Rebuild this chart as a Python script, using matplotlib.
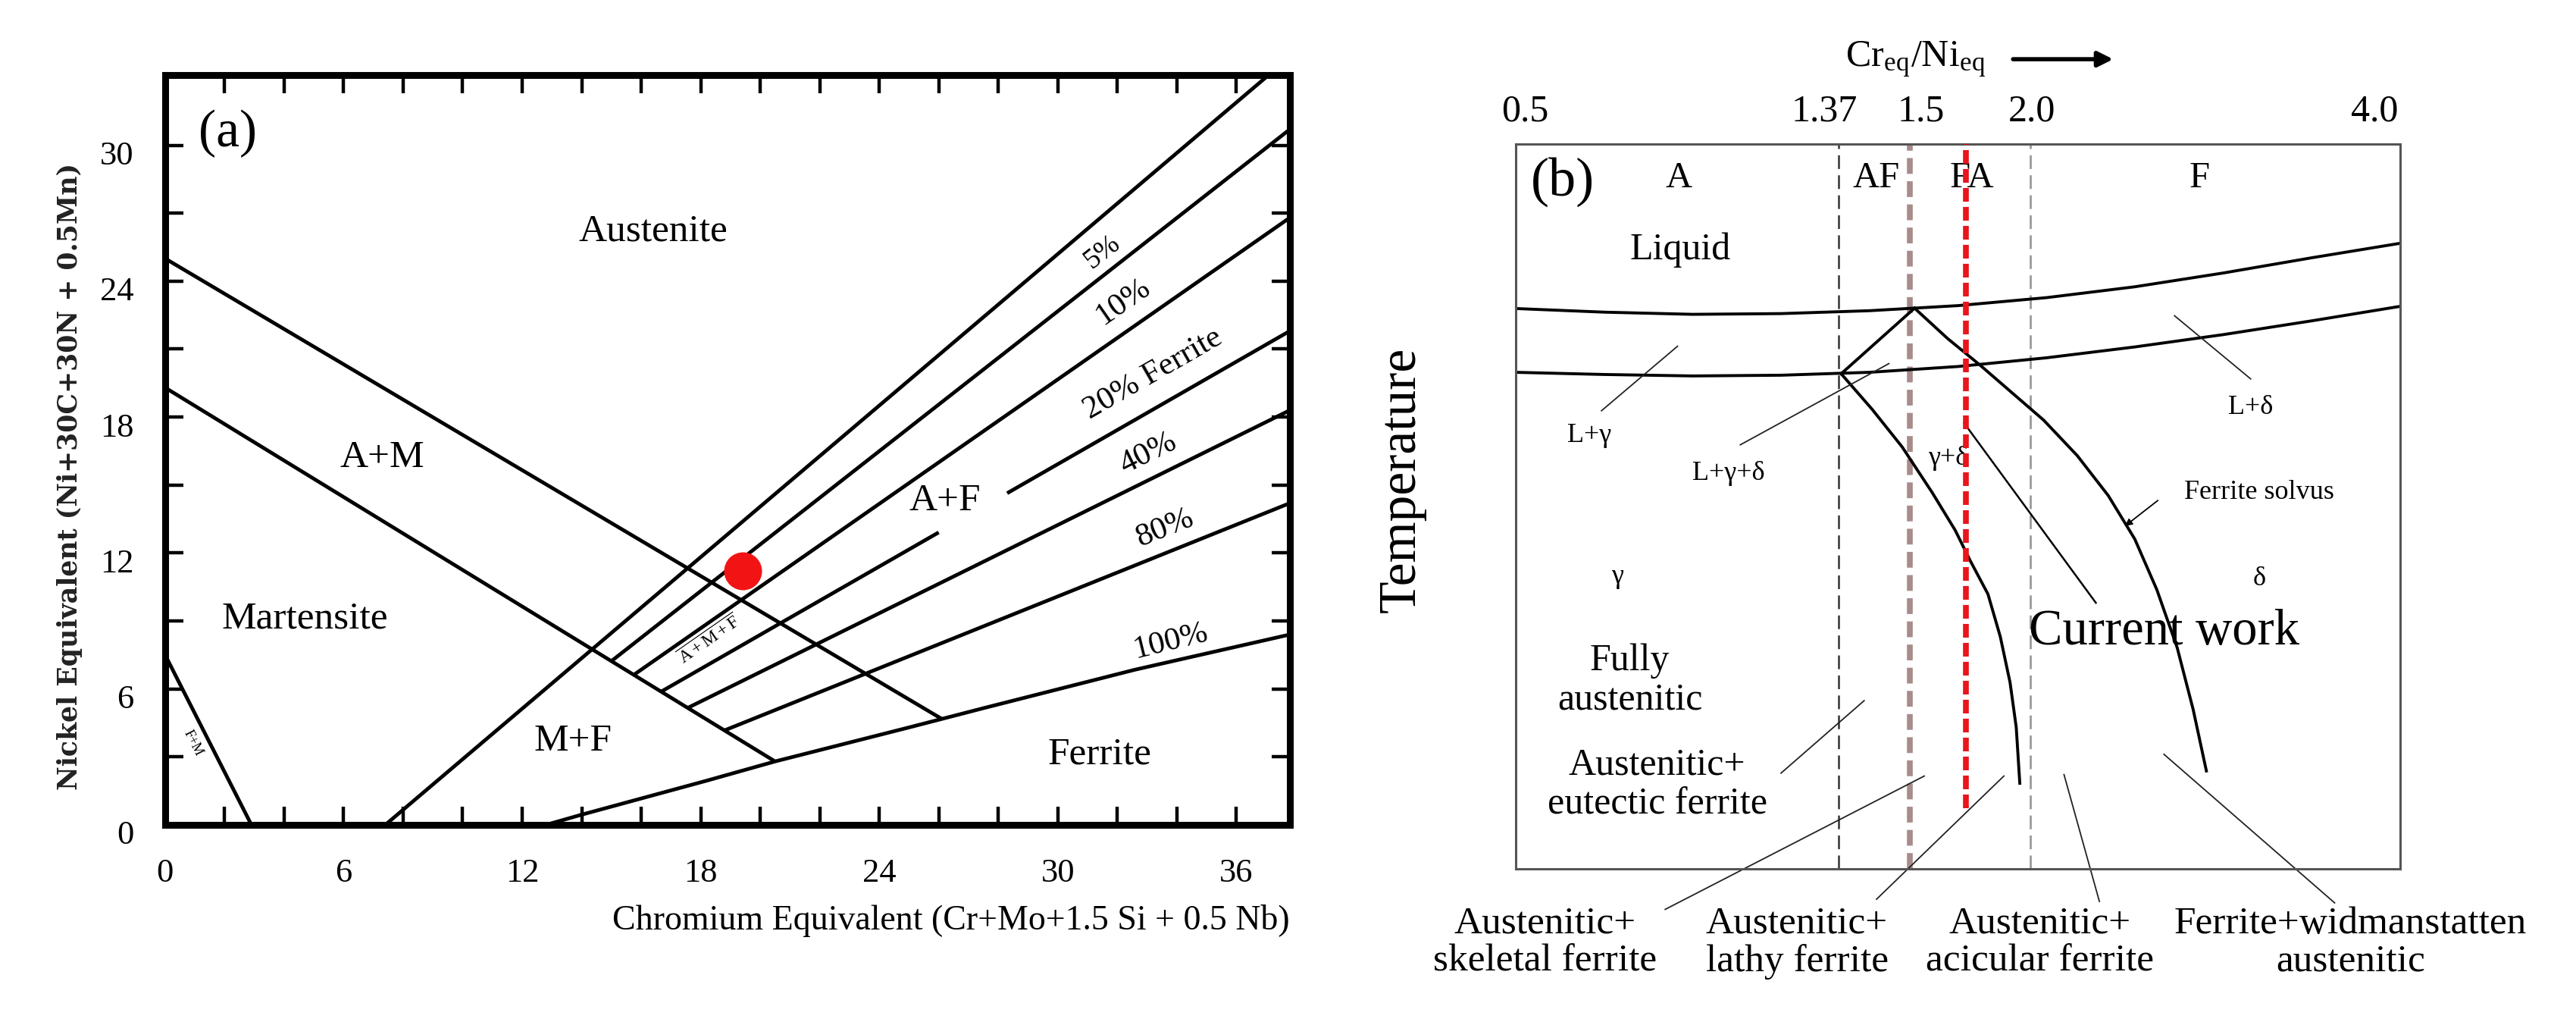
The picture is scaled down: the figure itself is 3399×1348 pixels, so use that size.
import matplotlib
matplotlib.use('Agg')
import matplotlib.pyplot as plt
import matplotlib.transforms as mtransforms
import numpy as np

plt.rcParams['font.family'] = ['Liberation Serif', 'DejaVu Serif']
plt.rcParams['mathtext.fontset'] = 'stix'
plt.rcParams['lines.scale_dashes'] = False

# ---------------- (a) Schaeffler diagram: Cr_eq vs Ni_eq ----------------
cr_ticks = [0, 6, 12, 18, 24, 30, 36]
ni_ticks = [0, 6, 12, 18, 24, 30]

aus_am_cr = [0, 26.1]            # Austenite / A+M boundary
aus_am_ni = [25.0, 4.68]
am_mart_cr = [0, 20.5]           # A+M / Martensite boundary
am_mart_ni = [19.3, 2.8]
corner_cr = [0, 2.9]             # small corner region
corner_ni = [7.5, 0]
zero_cr = [7.4, 37.0]            # 0 % ferrite line
zero_ni = [0, 33.0]

pct_names = ['5%', '10%', '20% Ferrite', '40%', '80%']
pct_cr0 = [15.0, 15.75, 16.67, 17.56, 18.8]
pct_ni0 = [7.23, 6.62, 5.88, 5.16, 4.17]
pct_cr1 = [37.8, 37.8, 37.8, 37.8, 37.8]
pct_ni1 = [30.7, 26.8, 21.8, 18.3, 14.2]
gap20_cr = [26.0, 28.3]          # 20 % line broken around "A+F"
gap20_ni = [12.91, 14.64]

full_cr = [12.8, 14.0, 16.1, 18.2, 20.5, 25.0, 27.5, 32.6, 37.8]   # 100 % ferrite
full_ni = [0, 0.45, 1.2, 1.95, 2.8, 4.3, 5.15, 6.85, 8.4]

current_cr = [19.4]
current_ni = [11.2]

# ---------------- (b) schematic, arbitrary units 0-100 ----------------
ratio_labels = ['0.5', '1.37', '1.5', '2.0', '4.0']
ratio_pos = [1.1, 34.9, 45.8, 58.4, 97.1]
line137_x = 36.5
line15_x = 44.6
line20_x = 58.2
current_x = 50.9
current_bottom = 8.4

liq_x = [0, 10, 20, 30, 40, 50, 60, 70, 80, 90, 100]
liq_upper = [77.3, 76.8, 76.5, 76.6, 77.0, 77.7, 78.8, 80.3, 82.2, 84.3, 86.3]
liq_lower = [68.5, 68.2, 68.0, 68.1, 68.5, 69.3, 70.5, 72.0, 73.7, 75.6, 77.6]

tri_x = [36.8, 45.1]
tri_y = [68.3, 77.35]
solvus_x = [45.1, 48.8, 52.5, 56.1, 59.7, 63.5, 67.0, 70.0, 72.5, 74.8, 76.6, 78.1]
solvus_y = [77.35, 73.2, 69.5, 65.7, 61.9, 57.0, 51.5, 45.5, 38.5, 30.5, 22.0, 13.5]
inner_x = [36.8, 40.3, 43.7, 47.1, 49.7, 51.4, 53.4, 54.8, 55.9, 56.6, 57.0]
inner_y = [68.3, 63.4, 58.2, 51.9, 46.7, 42.5, 37.9, 32.0, 25.7, 19.5, 11.8]


def along(ax, x, y, s, x0, y0, x1, y1, **kw):
    ang = np.degrees(np.arctan2(y1 - y0, x1 - x0))
    ax.text(x, y, s, rotation=ang, rotation_mode='anchor',
            transform_rotates_text=True, ha='center', va='center', **kw)


fig = plt.figure(figsize=(33.99, 13.48), dpi=100)

# ======================= panel (a) =======================
ax1 = fig.add_axes([0.0641, 0.1929, 0.4366, 0.7337])
ax1.set_xlim(0, 37.8)
ax1.set_ylim(0, 33.1)
k = dict(color='black', lw=3.5, solid_capstyle='butt')

ax1.plot(aus_am_cr, aus_am_ni, **k)
ax1.plot(am_mart_cr, am_mart_ni, **k)
ax1.plot(corner_cr, corner_ni, **k)
ax1.plot(zero_cr, zero_ni, **k)
ax1.plot(full_cr, full_ni, **k)
for i in range(len(pct_names)):
    if i == 2:
        xs = [pct_cr0[i], gap20_cr[0], np.nan, gap20_cr[1], pct_cr1[i]]
        ys = [pct_ni0[i], gap20_ni[0], np.nan, gap20_ni[1], pct_ni1[i]]
    else:
        xs = [pct_cr0[i], pct_cr1[i]]
        ys = [pct_ni0[i], pct_ni1[i]]
    ax1.plot(xs, ys, **k)

ax1.plot(current_cr, current_ni, 'o', color='#f21414', markersize=36,
         markeredgewidth=0, zorder=5)

# ferrite percentage labels
pct_lab = [(31.5, 25.3), (32.2, 23.1), (33.2, 19.9), (33.05, 16.4), (33.6, 13.1)]
for i, (lx, ly) in enumerate(pct_lab):
    along(ax1, lx, ly, pct_names[i], pct_cr0[i], pct_ni0[i], pct_cr1[i], pct_ni1[i],
          fontsize=27 if i == 0 else 31)
along(ax1, 33.8, 8.1, '100%', full_cr[4], full_ni[4], full_cr[-1], full_ni[-1], fontsize=31)
along(ax1, 18.3, 8.15, r'$\overline{\mathregular{A+M+F}}$', pct_cr0[1], pct_ni0[1],
      pct_cr1[1], pct_ni1[1], fontsize=17)
along(ax1, 0.95, 3.6, 'F+M', corner_cr[0], corner_ni[0], corner_cr[1], corner_ni[1], fontsize=13)

region_fs = 37
ax1.text(16.4, 26.2, 'Austenite', fontsize=region_fs, ha='center', va='center')
ax1.text(7.3, 16.2, 'A+M', fontsize=region_fs, ha='center', va='center')
ax1.text(4.7, 9.1, 'Martensite', fontsize=region_fs, ha='center', va='center')
ax1.text(13.7, 3.7, 'M+F', fontsize=region_fs, ha='center', va='center')
ax1.text(26.2, 14.3, 'A+F', fontsize=region_fs, ha='center', va='center')
ax1.text(31.4, 3.1, 'Ferrite', fontsize=region_fs, ha='center', va='center')
ax1.text(2.1, 30.5, '(a)', fontsize=50, ha='center', va='center')

ax1.set_xticks(cr_ticks)
ax1.set_xticks(np.arange(2, 38, 2), minor=True)
ax1.set_yticks(ni_ticks)
ax1.set_yticks(np.arange(3, 33, 3), minor=True)
ax1.tick_params(which='both', direction='in', length=17, width=3.2,
                top=True, right=True)
ax1.tick_params(axis='x', which='major', labelsize=32, pad=32)
ax1.tick_params(axis='y', which='major', labelsize=32, pad=30)
for s in ax1.spines.values():
    s.set_linewidth(6.5)

ax1.text(0.699, -0.128, 'Chromium Equivalent (Cr+Mo+1.5 Si + 0.5 Nb)',
         transform=ax1.transAxes, fontsize=33, ha='center', va='center')
ax1.text(-0.085, 0.465, 'Nickel Equivalent (Ni+30C+30N + 0.5Mn)',
         transform=ax1.transAxes, fontsize=25, rotation=90, ha='center', va='center',
         family='DejaVu Serif', fontweight='bold', color='#222222')

# ======================= panel (b) =======================
ax2 = fig.add_axes([0.5884, 0.1499, 0.3433, 0.7092])
ax2.set_xlim(0, 100)
ax2.set_ylim(0, 100)
for s in ax2.spines.values():
    s.set_linewidth(2.2)
    s.set_color('#555555')

ax2.axvline(line137_x, color='#333333', lw=1.8, dashes=(13, 6))
ax2.axvline(line15_x, color='#a88c8c', lw=5.5, dashes=(15, 7))
ax2.axvline(line20_x, color='#9a9a9a', lw=2.0, dashes=(13, 6))
ax2.vlines(current_x, current_bottom, 100, color='#e8151b', lw=5.5,
           linestyles=[(0, (13, 5))], zorder=4)

c = dict(color='black', lw=2.8)
ax2.plot(liq_x, liq_upper, **c)
ax2.plot(liq_x, liq_lower, **c)
ax2.plot(tri_x, tri_y, **c)
ax2.plot(solvus_x, solvus_y, **c)
ax2.plot(inner_x, inner_y, **c)

thin = dict(color='#222222', lw=1.3, clip_on=False)
ax2.plot([50.7, 65.6], [61.5, 36.7], color='black', lw=1.8)
ax2.plot([18.3, 9.7], [72.1, 63.2], **thin)
ax2.plot([42.2, 25.4], [69.7, 58.5], **thin)
ax2.plot([74.5, 83.1], [76.3, 67.6], **thin)
ax2.plot([39.4, 30.0], [23.2, 13.2], **thin)
ax2.plot([46.2, 16.9], [12.8, -5.6], **thin)
ax2.plot([55.2, 40.8], [12.8, -4.2], **thin)
ax2.plot([62.0, 66.0], [13.0, -4.5], **thin)
ax2.plot([73.3, 92.6], [15.8, -4.7], **thin)
ax2.annotate('', xy=(68.7, 47.1), xytext=(72.8, 51.0),
             arrowprops=dict(arrowstyle='-|>', lw=1.3, color='black', mutation_scale=14))

small = 26
ax2.text(5.3, 94.8, '(b)', fontsize=52, ha='center', va='center')
for lab, lx in zip(['A', 'AF', 'FA', 'F'], [18.4, 40.8, 51.6, 77.3]):
    ax2.text(lx, 95.3, lab, fontsize=35, ha='center', va='center')
ax2.text(18.6, 85.4, 'Liquid', fontsize=36, ha='center', va='center')
ax2.text(8.3, 59.8, 'L+γ', fontsize=small, ha='center', va='center')
ax2.text(24.1, 54.5, 'L+γ+δ', fontsize=small, ha='center', va='center')
ax2.text(83.1, 63.6, 'L+δ', fontsize=small, ha='center', va='center')
ax2.text(48.9, 56.6, 'γ+δ', fontsize=small, ha='center', va='center')
ax2.text(84.1, 51.9, 'Ferrite solvus', fontsize=small, ha='center', va='center')
ax2.text(11.5, 40.3, 'γ', fontsize=small, ha='center', va='center')
ax2.text(84.1, 40.0, 'δ', fontsize=small, ha='center', va='center')
ax2.text(73.3, 32.7, 'Current work', fontsize=48, ha='center', va='center')
ax2.text(12.9, 26.0, 'Fully\naustenitic', fontsize=36, ha='center', va='center',
         linespacing=1.15)
ax2.text(16.0, 11.6, 'Austenitic+\neutectic ferrite', fontsize=36, ha='center',
         va='center', linespacing=1.15)

bottom_labels = ['Austenitic+\nskeletal ferrite', 'Austenitic+\nlathy ferrite',
                 'Austenitic+\nacicular ferrite', 'Ferrite+widmanstatten\naustenitic']
for lab, lx in zip(bottom_labels, [3.3, 31.8, 59.3, 94.4]):
    ax2.text(lx, -10.2, lab, fontsize=37, ha='center', va='center', linespacing=1.1)

ax2.set_xticks(ratio_pos, ratio_labels)
ax2.set_yticks([])
ax2.tick_params(axis='x', top=True, bottom=False, labeltop=True, labelbottom=False,
                length=0, labelsize=36, pad=14)

ax2.text(45.2, 1.117, r'Cr$_{\mathregular{eq}}$/Ni$_{\mathregular{eq}}$',
         transform=ax2.get_xaxis_transform(), fontsize=36, ha='center', va='center')
ax2.annotate('', xy=(67.8, 1.117), xytext=(56.0, 1.117),
             xycoords=ax2.get_xaxis_transform(), textcoords=ax2.get_xaxis_transform(),
             arrowprops=dict(arrowstyle='-|>', lw=4, color='black', mutation_scale=30))
ax2.text(-0.1285, 0.537, 'Temperature', transform=ax2.transAxes, fontsize=50,
         rotation=90, ha='center', va='center')

# y tick labels of (a) sit a little below their ticks
shift = mtransforms.ScaledTranslation(0, -0.10, fig.dpi_scale_trans)
for t in ax1.yaxis.get_major_ticks():
    t.label1.set_transform(t.label1.get_transform() + shift)

fig.savefig('out.png', dpi=100)
